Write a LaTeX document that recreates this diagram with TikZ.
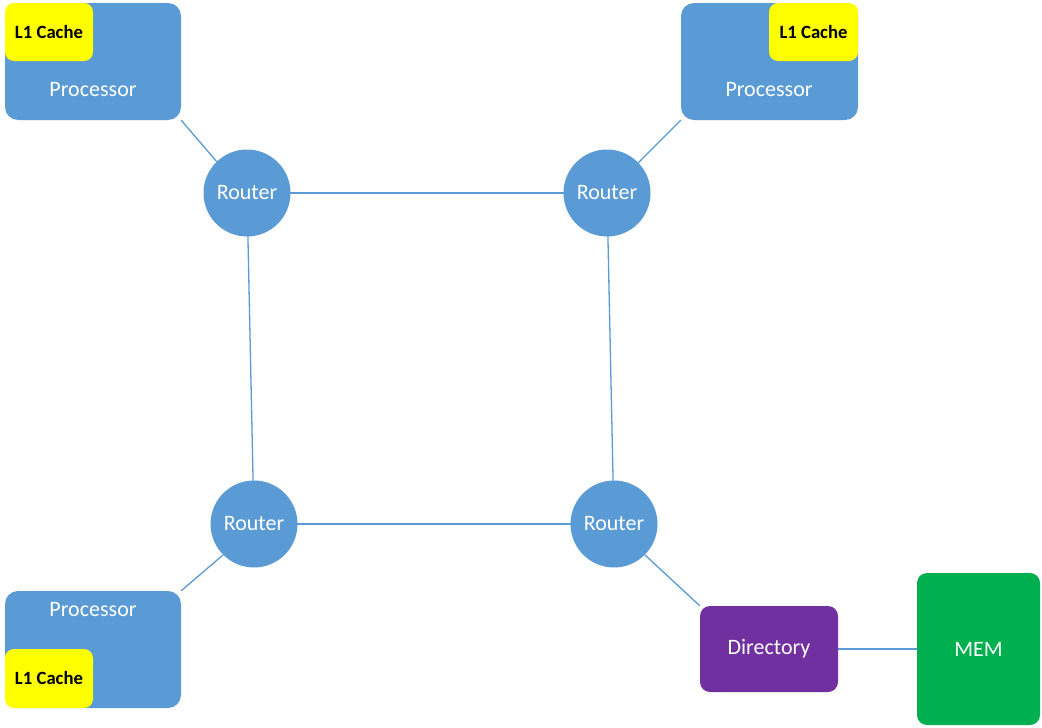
\documentclass[tikz,border=0pt]{standalone}
\usepackage{fontspec}
\setmainfont{Carlito}
\pgfdeclarelayer{bg}
\pgfsetlayers{bg,main}
\definecolor{cblue}{HTML}{5B9BD5}
\definecolor{cyellow}{HTML}{FFFF00}
\definecolor{cpurple}{HTML}{7030A0}
\definecolor{cgreen}{HTML}{00B050}
\tikzset{
  procbox/.style={fill=cblue, rounded corners=13pt, minimum width=176pt, minimum height=117pt, inner sep=0pt},
  cachebox/.style={fill=cyellow, rounded corners=9pt, minimum width=88pt, minimum height=58pt, inner sep=0pt,
    font=\fontsize{18.7}{22}\selectfont\bfseries, text=black},
  proctext/.style={font=\fontsize{22}{26}\selectfont, text=white, inner sep=0pt},
  routerbox/.style={circle, fill=cblue, minimum size=87pt, inner sep=0pt,
    font=\fontsize{22}{26}\selectfont, text=white},
  dirbox/.style={fill=cpurple, rounded corners=10pt, minimum width=138pt, minimum height=86pt, inner sep=0pt,
    font=\fontsize{22}{26}\selectfont, text=white},
  membox/.style={fill=cgreen, rounded corners=10pt, minimum width=123pt, minimum height=152pt, inner sep=0pt,
    font=\fontsize{22}{26}\selectfont, text=white},
  link/.style={draw=cblue, line width=1.3pt}
}
\begin{document}
\begin{tikzpicture}[x=1pt,y=-1pt]
\useasboundingbox (0,0) rectangle (1042,728);
\begin{pgfonlayer}{bg}
\fill[white] (0,0) rectangle (1042,728);
\end{pgfonlayer}

% processors
\node[procbox] (p1) at (93,61.5) {};
\node[cachebox] (c1) at (49,32) {L1 Cache};
\node[proctext] (t1) at (93,90) {Processor};

\node[procbox, minimum width=177pt] (p2) at (769.5,61.5) {};
\node[cachebox, minimum width=89pt] (c2) at (813.5,32) {L1 Cache};
\node[proctext] (t2) at (769,90) {Processor};

\node[procbox] (p3) at (93,649.5) {};
\node[cachebox, minimum height=59pt] (c3) at (49,678.5) {L1 Cache};
\node[proctext] (t3) at (93,610) {Processor};

% routers
\node[routerbox] (r1) at (247,193) {Router};
\node[routerbox] (r2) at (607,193) {Router};
\node[routerbox] (r3) at (254,524) {Router};
\node[routerbox] (r4) at (614,524) {Router};

% directory and memory
\node[dirbox] (dir) at (769,649) {Directory};
\node[membox] (mem) at (978.5,649) {MEM};

\begin{pgfonlayer}{bg}
\draw[link] (r1.center) -- (r2.center);
\draw[link] (r3.center) -- (r4.center);
\draw[link] (r1.center) -- (r3.center);
\draw[link] (r2.center) -- (r4.center);
\draw[link] (p1.south east) -- (r1.134);
\draw[link] (p2.south west) -- (r2.44);
\draw[link] (p3.north east) -- (r3.225);
\draw[link] (r4.315) -- (dir.north west);
\draw[link] (dir.center) -- (mem.center);
\end{pgfonlayer}
\end{tikzpicture}
\end{document}
